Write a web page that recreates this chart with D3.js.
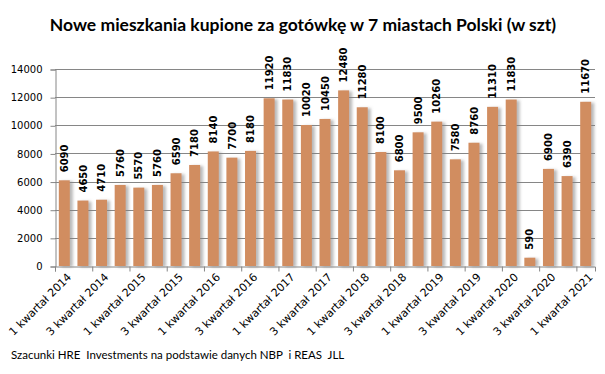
<!DOCTYPE html>
<html>
<head>
<meta charset="utf-8">
<script src="https://cdn.jsdelivr.net/npm/d3@7"></script>
<style>
  body { margin: 0; background: #fff; }
  svg { display: block; }
</style>
</head>
<body>
<svg id="chart" width="605" height="374"></svg>
<script>
// quarters, 1 kwartal 2014 .. 1 kwartal 2021
var quarters = [
  "1 kwartał 2014", "2 kwartał 2014", "3 kwartał 2014", "4 kwartał 2014",
  "1 kwartał 2015", "2 kwartał 2015", "3 kwartał 2015", "4 kwartał 2015",
  "1 kwartał 2016", "2 kwartał 2016", "3 kwartał 2016", "4 kwartał 2016",
  "1 kwartał 2017", "2 kwartał 2017", "3 kwartał 2017", "4 kwartał 2017",
  "1 kwartał 2018", "2 kwartał 2018", "3 kwartał 2018", "4 kwartał 2018",
  "1 kwartał 2019", "2 kwartał 2019", "3 kwartał 2019", "4 kwartał 2019",
  "1 kwartał 2020", "2 kwartał 2020", "3 kwartał 2020", "4 kwartał 2020",
  "1 kwartał 2021"
];
var flats = [
  6090, 4650, 4710, 5760,
  5570, 5760, 6590, 7180,
  8140, 7700, 8180, 11920,
  11830, 10020, 10450, 12480,
  11280, 8100, 6800, 9500,
  10260, 7580, 8760, 11310,
  11830, 590, 6900, 6390,
  11670
];
var yTicks = [0, 2000, 4000, 6000, 8000, 10000, 12000, 14000];

var svg = d3.select("#chart");
var plotL = 55, plotR = 595, plotT = 69, plotB = 266;

var x = d3.scaleBand()
  .domain(d3.range(quarters.length))
  .range([plotL, plotR])
  .paddingInner(0.41)
  .paddingOuter(0.205);
// boundaries between categories, for the x tick marks
var xb = d3.scaleLinear().domain([0, quarters.length]).range([plotL, plotR]);
var y = d3.scaleLinear().domain([0, 14000]).range([plotB, plotT]);

var defs = svg.append("defs");
var f = defs.append("filter").attr("id", "shadow")
  .attr("x", "-50%").attr("y", "-10%").attr("width", "200%").attr("height", "120%");
f.append("feDropShadow")
  .attr("dx", 3).attr("dy", 1).attr("stdDeviation", 1.6)
  .attr("flood-color", "#808080").attr("flood-opacity", 0.55);

// title
svg.append("text")
  .attr("x", 303).attr("y", 31)
  .attr("text-anchor", "middle")
  .style("font-family", "Lato, 'Noto Sans', sans-serif")
  .style("font-weight", "bold")
  .style("font-size", "17.5px")
  .attr("fill", "#000")
  .text("Nowe mieszkania kupione za gotówkę w 7 miastach Polski (w szt)");

// gridlines
svg.append("g")
  .selectAll("line")
  .data(yTicks.filter(function(d) { return d > 0; }))
  .join("line")
  .attr("x1", plotL).attr("x2", plotR)
  .attr("y1", function(d) { return Math.round(y(d)) + 0.5; })
  .attr("y2", function(d) { return Math.round(y(d)) + 0.5; })
  .attr("stroke", "#868686").attr("stroke-width", 1);

// y axis
var yAxis = svg.append("g")
  .attr("transform", "translate(" + (plotL + 0.5) + ",0.5)")
  .call(d3.axisLeft(y).tickValues(yTicks).tickSize(5).tickPadding(8).tickFormat(d3.format("d")));
yAxis.select(".domain").attr("stroke", "#868686");
yAxis.selectAll(".tick line").attr("stroke", "#868686");
yAxis.selectAll("text")
  .style("font-family", "'DejaVu Sans', Verdana, sans-serif")
  .style("font-size", "10px")
  .attr("fill", "#000");

// bars
svg.append("g")
  .selectAll("rect")
  .data(flats)
  .join("rect")
  .attr("x", function(d, i) { return x(i); })
  .attr("y", function(d) { return y(d); })
  .attr("width", x.bandwidth())
  .attr("height", function(d) { return plotB - y(d); })
  .attr("fill", "#d18d60")
  .attr("filter", "url(#shadow)");

// x axis, marks every two quarters
var xAxis = svg.append("g")
  .attr("transform", "translate(0," + (plotB + 0.5) + ")")
  .call(d3.axisBottom(xb).tickValues(d3.range(0, quarters.length + 1, 2)).tickSize(5).tickFormat(""));
xAxis.select(".domain").attr("stroke", "#868686");
xAxis.selectAll(".tick line").attr("stroke", "#868686");

// category labels, every other quarter
svg.append("g")
  .selectAll("text")
  .data(quarters.map(function(q, i) { return {q: q, i: i}; }).filter(function(d) { return d.i % 2 === 0; }))
  .join("text")
  .attr("transform", function(d) {
    return "translate(" + (x(d.i) + x.bandwidth() / 2 + 5) + "," + (plotB + 9) + ") rotate(-45)";
  })
  .attr("text-anchor", "end")
  .attr("dy", "0.35em")
  .style("font-family", "'DejaVu Sans', Verdana, sans-serif")
  .style("font-size", "11px")
  .attr("fill", "#000")
  .text(function(d) { return d.q; });

// value labels
svg.append("g")
  .selectAll("text")
  .data(flats)
  .join("text")
  .attr("transform", function(d, i) {
    return "translate(" + (x(i) + x.bandwidth() / 2) + "," + (y(d) - 8) + ") rotate(-90)";
  })
  .attr("dy", "0.36em")
  .style("font-family", "'DejaVu Sans', Verdana, sans-serif")
  .style("font-weight", "bold")
  .style("font-size", "10px")
  .attr("fill", "#000")
  .text(function(d) { return d; });

// source note
svg.append("text")
  .attr("x", 11).attr("y", 359)
  .attr("xml:space", "preserve")
  .style("white-space", "pre")
  .style("font-family", "Lato, 'Noto Sans', sans-serif")
  .style("font-size", "11.5px")
  .attr("fill", "#000")
  .text("Szacunki HRE  Investments na podstawie danych NBP  i REAS  JLL");
</script>
</body>
</html>
